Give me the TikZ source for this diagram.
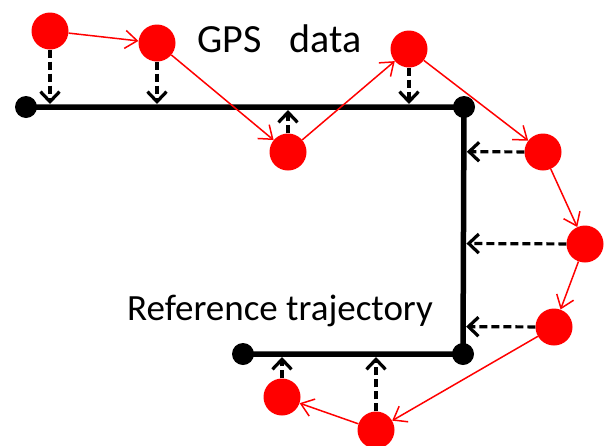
\documentclass[tikz,border=0pt]{standalone}
\usepackage{fontspec}
\setmainfont{Carlito}
\usetikzlibrary{arrows.meta,calc}
\begin{document}
\begin{tikzpicture}[x=1pt,y=-1pt,
  gps/.style={circle,fill=red,minimum size=37pt,inner sep=0pt},
  endpt/.style={circle,fill=black,minimum size=22pt,inner sep=0pt},
  track/.style={line width=5.5pt,line join=miter},
  hop/.style={red,line width=1.5pt,-{Straight Barb[length=12pt,width=18pt]}},
  snap/.style={line width=3.2pt,dash pattern=on 8pt off 4pt,
    -{Straight Barb[length=10pt,width=19pt]},shorten >=3pt},
  label/.style={anchor=base west,inner sep=0pt}]
\useasboundingbox (0,0) rectangle (605,445);

% reference trajectory
\node[endpt] (a) at (26,107) {};
\node[endpt] (b) at (464,107) {};
\node[endpt] (c) at (463,354) {};
\node[endpt] (d) at (243,354) {};
\draw[track] (a.center) -- (b.center) -- (c.center) -- (d.center);

% GPS fixes
\node[gps] (r1) at (50,31) {};
\node[gps] (r2) at (157,43) {};
\node[gps] (r3) at (288,152) {};
\node[gps] (r4) at (409,49) {};
\node[gps] (r5) at (543,152) {};
\node[gps] (r6) at (585,244) {};
\node[gps] (r7) at (554,327) {};
\node[gps] (r8) at (376,430) {};
\node[gps] (r9) at (282,397) {};

% successive fixes
\draw[hop] (r1) -- (r2);
\draw[hop] (r2) -- (r3);
\draw[hop] (r3) -- (r4);
\draw[hop] (r4) -- (r5);
\draw[hop] (r5) -- (r6);
\draw[hop] (r6) -- (r7);
\draw[hop] (r7) -- (r8);
\draw[hop] (r8) -- (r9);

% projections onto the trajectory
\coordinate (p1) at ($(a.center)!(r1.center)!(b.center)$);
\coordinate (p2) at ($(a.center)!(r2.center)!(b.center)$);
\coordinate (p3) at ($(a.center)!(r3.center)!(b.center)$);
\coordinate (p4) at ($(a.center)!(r4.center)!(b.center)$);
\coordinate (p5) at ($(b.center)!(r5.center)!(c.center)$);
\coordinate (p6) at ($(b.center)!(r6.center)!(c.center)$);
\coordinate (p7) at ($(b.center)!(r7.center)!(c.center)$);
\coordinate (p8) at ($(d.center)!(r8.center)!(c.center)$);
\coordinate (p9) at ($(d.center)!(r9.center)!(c.center)$);
\foreach \i in {1,...,9}
  \draw[snap] (r\i) -- (p\i);

% labels
\node[label,font=\fontsize{40}{48}\selectfont] (t1) at (197,52) {GPS\hspace{0.7em}data};
\node[label,font=\fontsize{37}{44}\selectfont] (t2) at (127,320) {Reference trajectory};
\end{tikzpicture}
\end{document}
